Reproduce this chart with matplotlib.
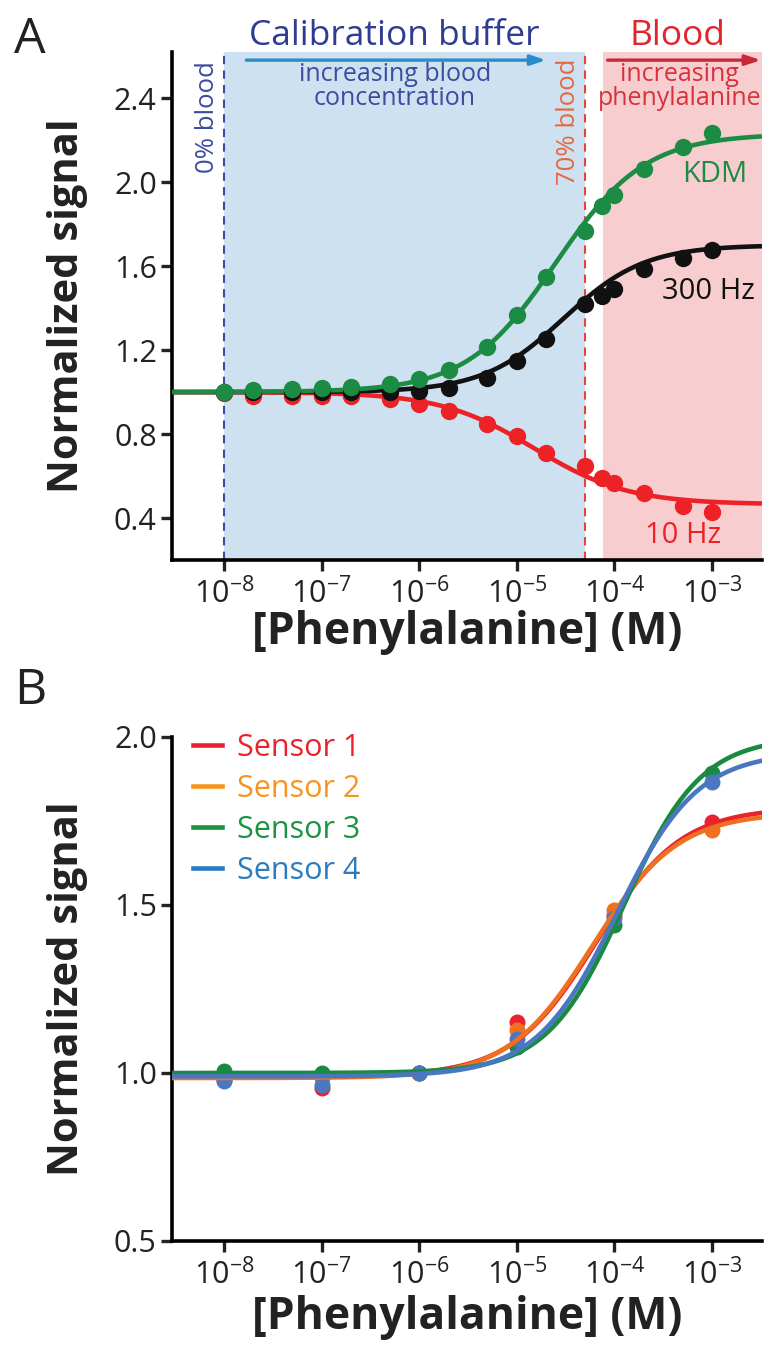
import numpy as np
import matplotlib
matplotlib.use("Agg")
import matplotlib.pyplot as plt
from matplotlib.ticker import FixedLocator, NullLocator

plt.rcParams.update(
    {
        "font.family": ["Open Sans", "DejaVu Sans"],
        "mathtext.fontset": "custom",
        "mathtext.rm": "Open Sans",
        "mathtext.it": "Open Sans",
        "mathtext.bf": "Open Sans:bold",
    }
)

# colours
GREEN = "#1c8c45"
BLACK = "#111111"
RED = "#ec2227"
NAVY = "#3a4ca0"
SKY = "#2a8ccb"
BLUE_BG = "#cde1f1"
PINK_BG = "#f8cdd0"
INK = "#222222"

# ---------------- panel A data ----------------
conc_a = [1e-8, 2e-8, 5e-8, 1e-7, 2e-7, 5e-7, 1e-6, 2e-6, 5e-6, 1e-5, 2e-5,
          5e-5, 7.5e-5, 1e-4, 2e-4, 5e-4, 1e-3]
kdm = [1.00, 1.01, 1.014, 1.02, 1.024, 1.04, 1.06, 1.105, 1.214, 1.367, 1.548,
       1.767, 1.886, 1.938, 2.062, 2.167, 2.233]
hz300 = [1.00, 1.00, 1.00, 1.00, 1.00, 1.00, 1.005, 1.02, 1.067, 1.148, 1.252,
         1.419, 1.46, 1.49, 1.586, 1.638, 1.676]
hz10 = [0.995, 0.98, 0.98, 0.98, 0.98, 0.967, 0.943, 0.91, 0.848, 0.79, 0.71,
        0.648, 0.59, 0.567, 0.52, 0.457, 0.43]

# Hill fit parameters (start, end, K, n)
fit_kdm = (1.0, 2.23, 2.5e-5, 0.95)
fit_300 = (1.0, 1.70, 3.0e-5, 1.05)
fit_10 = (1.0, 0.465, 1.5e-5, 0.9)

# ---------------- panel B data ----------------
conc_b = [1e-8, 1e-7, 1e-6, 1e-5, 1e-4, 1e-3]
sensor_names = ["Sensor 1", "Sensor 2", "Sensor 3", "Sensor 4"]
sensor_colors = ["#e8232e", "#f7941d", "#1a9441", "#2b7bbf"]
point_colors = ["#e8232e", "#f07022", "#1a8a40", "#4a78c0"]
s1 = [0.98, 0.955, 1.0, 1.152, 1.47, 1.747]
s2 = [0.985, 0.985, 1.0, 1.128, 1.485, 1.723]
s3 = [1.005, 1.0, 1.0, 1.077, 1.44, 1.893]
s4 = [0.975, 0.965, 1.0, 1.10, 1.46, 1.866]
sensor_vals = [s1, s2, s3, s4]
sensor_fits = [
    (0.99, 1.79, 6.5e-5, 1.0),
    (0.985, 1.775, 6.0e-5, 1.0),
    (1.0, 2.0, 1.25e-4, 1.1),
    (0.99, 1.955, 1.05e-4, 1.05),
]


def hill(x, bottom, top, k, n):
    return bottom + (top - bottom) * x**n / (k**n + x**n)


XMIN, XMAX = 10**-8.53, 10**-2.49
xs = np.logspace(np.log10(XMIN), np.log10(XMAX), 400)

fig = plt.figure(figsize=(7.65, 13.51), dpi=100)


def style_axis(ax, xlab_y):
    ax.set_xscale("log")
    ax.set_xlim(XMIN, XMAX)
    for side in ["top", "right"]:
        ax.spines[side].set_visible(False)
    for side in ["left", "bottom"]:
        ax.spines[side].set_linewidth(2.6)
    ax.xaxis.set_major_locator(FixedLocator([1e-8, 1e-7, 1e-6, 1e-5, 1e-4, 1e-3]))
    ax.xaxis.set_minor_locator(NullLocator())
    ax.set_xticklabels([r"10$^{-%d}$" % e for e in range(8, 2, -1)])
    ax.tick_params(axis="both", direction="out", length=8, width=2.4,
                   labelsize=22, pad=5, colors=INK)
    ax.tick_params(axis="y", pad=3)
    ax.set_xlabel("[Phenylalanine] (M)", fontsize=32, fontweight="bold", color=INK)
    ax.set_ylabel("Normalized signal", fontsize=30, fontweight="bold", color=INK)
    ax.xaxis.label.set_va("center")
    ax.yaxis.label.set_va("center")
    ax.xaxis.set_label_coords(0.5, xlab_y)
    ax.yaxis.set_label_coords(-0.178, 0.5)


# ================= panel A =================
axA = fig.add_axes([0.225, 1 - 560 / 1351, 0.771, 508 / 1351])
style_axis(axA, (560 - 633) / 508)
axA.set_ylim(0.2, 2.62)
axA.set_yticks([0.4, 0.8, 1.2, 1.6, 2.0, 2.4])
axA.set_yticklabels(["0.4", "0.8", "1.2", "1.6", "2.0", "2.4"])

axA.axvspan(1e-8, 5e-5, color=BLUE_BG, zorder=0, lw=0)
axA.axvspan(7.6e-5, XMAX, color=PINK_BG, zorder=0, lw=0)
axA.axvline(1e-8, color=NAVY, ls=(0, (4, 3)), lw=1.5, zorder=1)
axA.axvline(5e-5, color="#e8423c", ls=(0, (4, 3)), lw=1.5, zorder=1)

for vals, fit, col in [(hz10, fit_10, RED), (hz300, fit_300, BLACK), (kdm, fit_kdm, GREEN)]:
    axA.plot(xs, hill(xs, *fit), color=col, lw=3.3, zorder=3, solid_capstyle="butt")
    axA.plot(conc_a, vals, "o", color=col, ms=12.5, zorder=4, mec="none")

tr = axA.get_xaxis_transform()
axA.text(10**-6.26, 1.031, "Calibration buffer", transform=tr, ha="center",
         va="center", fontsize=25.5, color="#2f3c92", clip_on=False)
axA.text(10**-3.36, 1.031, "Blood", transform=tr, ha="center", va="center",
         fontsize=25.5, color="#e2242c", clip_on=False)
axA.annotate("", xy=(10**-4.7, 0.984), xytext=(10**-7.77, 0.984), xycoords=tr,
             arrowprops=dict(arrowstyle="-|>,head_length=0.9,head_width=0.3",
                             color=SKY, lw=2.4, shrinkA=0, shrinkB=0))
axA.annotate("", xy=(10**-2.5, 0.984), xytext=(10**-4.07, 0.984), xycoords=tr,
             arrowprops=dict(arrowstyle="-|>,head_length=0.9,head_width=0.3",
                             color="#c9283b", lw=2.4, shrinkA=0, shrinkB=0))
axA.text(10**-6.25, 0.932, "increasing blood\nconcentration", transform=tr,
         ha="center", va="center", fontsize=18, color=NAVY, linespacing=0.9)
axA.text(10**-3.33, 0.932, "increasing\nphenylalanine", transform=tr,
         ha="center", va="center", fontsize=18, color="#d8313b", linespacing=0.9)
axA.text(10**-8.17, 0.872, "0% blood", transform=tr, ha="center", va="center",
         rotation=90, fontsize=18.5, color=NAVY)
axA.text(10**-4.475, 0.862, "70% blood", transform=tr, ha="center", va="center",
         rotation=90, fontsize=18.5, color="#e8683c")
axA.text(10**-2.97, 0.758, "KDM", transform=tr, ha="center", va="center",
         fontsize=21, color=GREEN)
axA.text(10**-3.04, 0.528, "300 Hz", transform=tr, ha="center", va="center",
         fontsize=21, color=BLACK)
axA.text(10**-3.3, 0.049, "10 Hz", transform=tr, ha="center", va="center",
         fontsize=21, color=RED)

# ================= panel B =================
axB = fig.add_axes([0.225, 1 - 1241 / 1351, 0.771, 504 / 1351])
style_axis(axB, (1241 - 1318) / 504)
axB.set_ylim(0.5, 2.0)
axB.set_yticks([0.5, 1.0, 1.5, 2.0])
axB.set_yticklabels(["0.5", "1.0", "1.5", "2.0"])

for name, vals, lc, pc in zip(sensor_names, sensor_vals, sensor_colors, point_colors):
    axB.plot(conc_b, vals, "o", color=pc, ms=11.5, mec="none", zorder=3)
for name, fit, lc, pc in zip(sensor_names, sensor_fits, sensor_colors, point_colors):
    axB.plot(xs, hill(xs, *fit), color=pc, lw=3.3, zorder=4, label=name)

leg = axB.legend(loc="upper left", bbox_to_anchor=(-0.012, 1.063), frameon=False,
                 fontsize=22, handlelength=0.95, handletextpad=0.52,
                 labelspacing=0.36, labelcolor=sensor_colors)
for h, c in zip(leg.get_lines(), sensor_colors):
    h.set_color(c)

fig.text(0.018, 1 - 40 / 1351, "A", fontsize=36, ha="left", va="center", color=INK)
fig.text(0.018, 1 - 691 / 1351, "B", fontsize=36, ha="left", va="center", color=INK)

fig.savefig("out.png", dpi=100)
